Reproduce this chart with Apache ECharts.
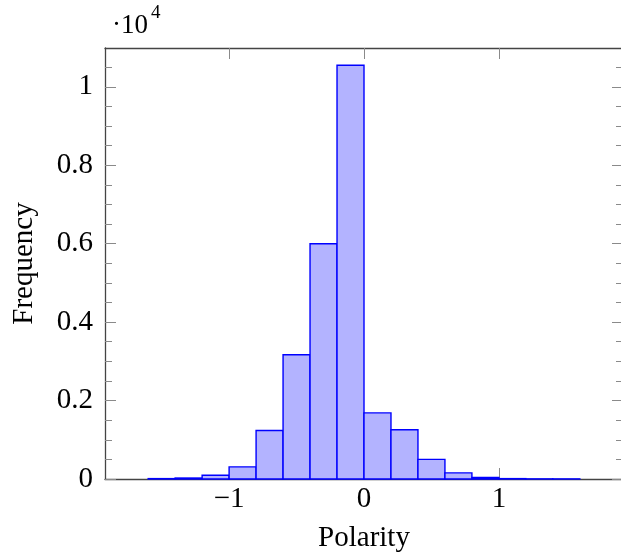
<!DOCTYPE html>
<html>
<head>
<meta charset="utf-8">
<script src="https://cdn.jsdelivr.net/npm/echarts@6/dist/echarts.min.js"></script>
<style>
  html, body { margin: 0; padding: 0; background: #fff; }
  #chart { width: 621px; height: 556px; }
</style>
</head>
<body>
<div id="chart"></div>
<script>
// histogram bins (polarity) and counts
var binEdges = [-1.6, -1.4, -1.2, -1.0, -0.8, -0.6, -0.4, -0.2, 0, 0.2, 0.4, 0.6, 0.8, 1.0, 1.2, 1.4, 1.6];
var counts = [10, 25, 95, 310, 1235, 3170, 6000, 10550, 1685, 1255, 500, 155, 40, 10, 4, 3];

var xTicks = [-1, 0, 1];
var yTicks = [0, 2000, 4000, 6000, 8000, 10000];
var yMinorTicks = [500, 1000, 1500, 2500, 3000, 3500, 4500, 5000, 5500, 6500, 7000, 7500,
                   8500, 9000, 9500, 10500];

var font = 'Liberation Serif';

function histogram() {
    var chartDom = document.getElementById('chart');
    var myChart = echarts.init(chartDom);
    var option;

    var bins = [];
    for (var i = 0; i < counts.length; i++) {
        bins.push([binEdges[i], binEdges[i + 1], counts[i]]);
    }

    function fmtX(v) {
        return v < 0 ? '\u2212' + (-v) : String(v);
    }

    var tickStyle = { color: '#8a8a8a', width: 1 };
    var lineStyle = { color: '#444', width: 1.3 };

    function yAx(pos, ticks, len, labels, line) {
        return {
            type: 'value', position: pos, min: 0, max: 10990,
            splitLine: { show: false },
            axisLine: { show: line, onZero: false, lineStyle: lineStyle },
            axisTick: { show: true, inside: true, length: len, customValues: ticks, lineStyle: tickStyle },
            axisLabel: {
                show: labels, customValues: yTicks, margin: 12,
                fontFamily: font, fontSize: 29, color: '#000',
                formatter: function (v) { return String(v / 10000); }
            },
            name: labels ? 'Frequency' : '',
            nameLocation: 'middle', nameRotate: 90, nameGap: 66,
            nameTextStyle: { fontFamily: font, fontSize: 29, color: '#000' }
        };
    }

    option = {
        animation: false,
        grid: { left: 105, right: -2, top: 48, bottom: 77, outerBoundsMode: 'none', containLabel: false },
        xAxis: [
            {
                type: 'value', position: 'bottom', min: -1.92, max: 1.92,
                splitLine: { show: false },
                axisLine: { show: true, onZero: false, lineStyle: lineStyle },
                axisTick: { show: true, inside: true, length: 11, customValues: xTicks, lineStyle: tickStyle },
                axisLabel: {
                    customValues: xTicks, margin: 6, formatter: fmtX,
                    fontFamily: font, fontSize: 29, color: '#000'
                },
                name: 'Polarity', nameLocation: 'middle', nameGap: 45,
                nameTextStyle: { fontFamily: font, fontSize: 29, color: '#000' }
            },
            {
                type: 'value', position: 'top', min: -1.92, max: 1.92,
                splitLine: { show: false },
                axisLine: { show: true, onZero: false, lineStyle: lineStyle },
                axisTick: { show: true, inside: true, length: 11, customValues: xTicks, lineStyle: tickStyle },
                axisLabel: { show: false }
            }
        ],
        yAxis: [
            yAx('left', yTicks, 11, true, true),
            yAx('left', yMinorTicks, 7, false, false),
            yAx('right', yTicks, 11, false, true),
            yAx('right', yMinorTicks, 7, false, false)
        ],
        graphic: [
            { type: 'text', left: 112, top: 12, style: { text: '\u00b710', font: '27px "Liberation Serif"', fill: '#000' } },
            { type: 'text', left: 151, top: 4, style: { text: '4', font: '19px "Liberation Serif"', fill: '#000' } }
        ],
        series: [
            {
                type: 'custom',
                xAxisIndex: 0, yAxisIndex: 0,
                encode: { x: [0, 1], y: 2 },
                data: bins,
                renderItem: function (params, api) {
                    var topLeft = api.coord([api.value(0), api.value(2)]);
                    var botRight = api.coord([api.value(1), 0]);
                    return {
                        type: 'rect',
                        shape: {
                            x: topLeft[0], y: topLeft[1],
                            width: botRight[0] - topLeft[0],
                            height: botRight[1] - topLeft[1]
                        },
                        style: { fill: '#b3b3ff', stroke: '#0000ff', lineWidth: 1.4 }
                    };
                }
            }
        ]
    };
    option && myChart.setOption(option);
}

histogram();
</script>
</body>
</html>
